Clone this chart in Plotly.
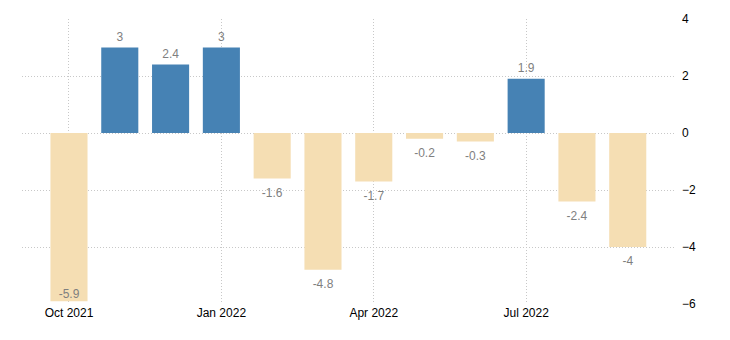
import plotly.graph_objects as go

months = ["Oct 2021", "Nov 2021", "Dec 2021", "Jan 2022", "Feb 2022", "Mar 2022",
          "Apr 2022", "May 2022", "Jun 2022", "Jul 2022", "Aug 2022", "Sep 2022"]
values = [-5.9, 3, 2.4, 3, -1.6, -4.8, -1.7, -0.2, -0.3, 1.9, -2.4, -4]
tick_labels = ["Oct 2021", "Jan 2022", "Apr 2022", "Jul 2022"]
y_ticks = [-6, -4, -2, 0, 2, 4]

x_idx = list(range(len(months)))
colors = ["#4682B4" if v >= 0 else "#F5DEB3" for v in values]
texts = [f"{v:g}" for v in values]
inside_end = [v < -5.5 for v in values]
positions = ["top center" if (v >= 0 or ie) else "bottom center"
             for v, ie in zip(values, inside_end)]
pad_sizes = [0 if ie else (4 if v >= 0 else 13) for v, ie in zip(values, inside_end)]
tick_idx = [months.index(t) for t in tick_labels]

fig = go.Figure()
fig.add_trace(go.Bar(
    x=x_idx, y=values, marker=dict(color=colors, line=dict(width=0)),
    width=0.73, hovertext=months,
))
fig.add_trace(go.Scatter(
    x=x_idx, y=values, mode="markers+text", text=texts, textposition=positions,
    marker=dict(size=pad_sizes, opacity=0), cliponaxis=False,
    textfont=dict(color="#7f7f7f", size=12, family="Liberation Sans"),
    hoverinfo="skip",
))

grid = dict(showgrid=True, gridcolor="#c8c8c8", griddash="1px,2px", gridwidth=1,
            zeroline=False, showline=False, ticks="")

fig.update_layout(
    width=730, height=340,
    margin=dict(l=22, r=54, t=19, b=36),
    plot_bgcolor="white", paper_bgcolor="white",
    showlegend=False,
    font=dict(family="Liberation Sans", size=12, color="#000"),
    xaxis=dict(range=[-0.925, 11.95], tickvals=tick_idx, ticktext=tick_labels,
               fixedrange=True, **grid),
    yaxis=dict(range=[-6, 4], tickvals=y_ticks, side="right",
               ticklabelstandoff=5, **grid),
)

fig.write_html("out.html")
